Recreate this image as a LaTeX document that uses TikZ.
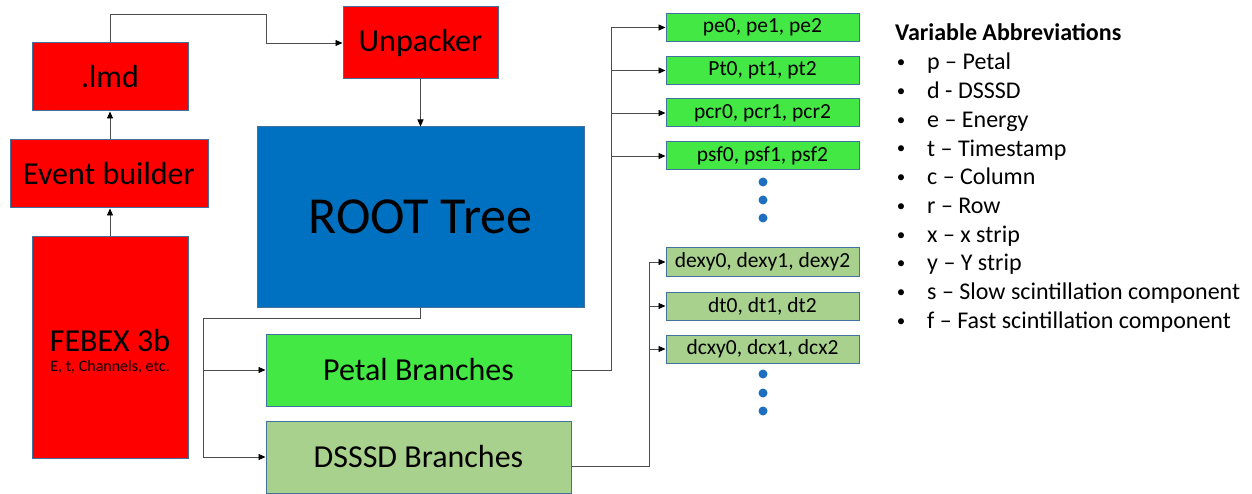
\documentclass[tikz,border=0pt]{standalone}
\usepackage{fontspec}
\setmainfont{Carlito}
\usetikzlibrary{arrows.meta,calc}
\definecolor{bordc}{HTML}{41719C}
\definecolor{redc}{HTML}{FF0000}
\definecolor{bluec}{HTML}{0070C0}
\definecolor{greenc}{HTML}{44E844}
\definecolor{lgreenc}{HTML}{A9D18E}
\definecolor{linec}{HTML}{4D4D4D}
\definecolor{dotc}{HTML}{1F6FC0}
\newcommand{\fsz}[1]{\fontsize{#1}{#1}\selectfont}
\tikzset{
  box/.style={draw=bordc, line width=1pt, inner sep=0pt, anchor=center},
  redbox/.style={box, fill=redc},
  leafg/.style={box, fill=greenc, minimum width=193pt, minimum height=28pt, font=\fsz{21.5}},
  leafl/.style={box, fill=lgreenc, minimum width=193pt, minimum height=28pt, font=\fsz{21.5}},
  conn/.style={draw=linec, line width=0.9pt},
  arr/.style={conn, -{Triangle[length=7pt,width=6pt,color=black]}},
  dotn/.style={circle, fill=dotc, inner sep=0pt, minimum size=9pt},
  abbr/.style={anchor=base west, inner sep=0pt, font=\fsz{24}},
  bull/.style={anchor=center, inner sep=0pt, font=\fsz{17}}
}
\begin{document}
\begin{tikzpicture}[x=1pt,y=-1pt]
\useasboundingbox (0,0) rectangle (1252,494);
% left column
\node[redbox, minimum width=156pt, minimum height=68pt, font=\fsz{32}] (lmd) at (110,77) {.lmd};
\node[redbox, minimum width=198pt, minimum height=68pt, font=\fsz{32}] (evb) at (109,174) {Event builder};
\node[redbox, minimum width=156pt, minimum height=221pt] (febex) at (110,347.5) {};
\node[font=\fsz{32}, inner sep=0pt] (febt) at (110,340) {FEBEX 3b};
\node[font=\fsz{16}, inner sep=0pt] (febs) at (110,367) {E, t, Channels, etc.};
% centre
\node[redbox, minimum width=155pt, minimum height=72pt, font=\fsz{32}] (unp) at (420.5,43) {Unpacker};
\node[box, fill=bluec, minimum width=327pt, minimum height=180pt, font=\fsz{52}] (root) at (420.5,217) {ROOT Tree};
\node[box, fill=greenc, minimum width=305pt, minimum height=72pt, font=\fsz{32}] (petal) at (418.5,370) {Petal Branches};
\node[box, fill=lgreenc, minimum width=305pt, minimum height=72pt, font=\fsz{32}] (dsssd) at (418.5,457) {DSSSD Branches};
% leaves
\node[leafg] (pe) at (762.5,27.5) {pe0, pe1, pe2};
\node[leafg] (pt) at (762.5,70.5) {Pt0, pt1, pt2};
\node[leafg] (pcr) at (762.5,113) {pcr0, pcr1, pcr2};
\node[leafg] (psf) at (762.5,156) {psf0, psf1, psf2};
\node[dotn] (pd1) at (763,182) {};
\node[dotn] (pd2) at (763,200) {};
\node[dotn] (pd3) at (763,218) {};
\node[leafl] (dexy) at (762.5,262) {dexy0, dexy1, dexy2};
\node[leafl] (dt) at (762.5,306) {dt0, dt1, dt2};
\node[leafl] (dcxy) at (762.5,349) {dcxy0, dcx1, dcx2};
\node[dotn] (dd1) at (763,374) {};
\node[dotn] (dd2) at (763,393) {};
\node[dotn] (dd3) at (763,411) {};
% connectors
\draw[arr] (febex.north) -- (evb.south -| febex.north);
\draw[arr] (evb.north -| lmd.south) -- (lmd.south);
\coordinate (c1) at (266,14);
\draw[arr] (lmd.north) |- (c1) |- (unp.west);
\draw[arr] (unp.south) -- (root.north);
\coordinate (r1) at (203,318);
\draw[arr] (root.south) |- (r1) |- (petal.west);
\draw[arr] (r1) |- (dsssd.west);
\coordinate (ptrunk) at (611,27.5);
\draw[arr] (petal.east) -| (ptrunk) -- (pe.west);
\draw[arr] (ptrunk |- pt.west) -- (pt.west);
\draw[arr] (ptrunk |- pcr.west) -- (pcr.west);
\draw[arr] (ptrunk |- psf.west) -- (psf.west);
\coordinate (dtrunk) at (649,262);
\draw[arr] ([yshift=-9pt]dsssd.east) -| (dtrunk) -- (dexy.west);
\draw[arr] (dtrunk |- dt.west) -- (dt.west);
\draw[arr] (dtrunk |- dcxy.west) -- (dcxy.west);
% abbreviations
\node[abbr, font=\fsz{24}\bfseries] (ttl) at (895,41) {Variable Abbreviations};
\foreach \i/\t in {0/p – Petal,1/d - DSSSD,2/e – Energy,3/t – Timestamp,4/c – Column,5/r – Row,6/x – x strip,7/y – Y strip,8/s – Slow scintillation component,9/f – Fast scintillation component}{
  \node[bull] (b\i) at (901,64+28.7*\i) {•};
  \node[abbr] (a\i) at (927,70+28.7*\i) {\t};
}
\end{tikzpicture}
\end{document}
